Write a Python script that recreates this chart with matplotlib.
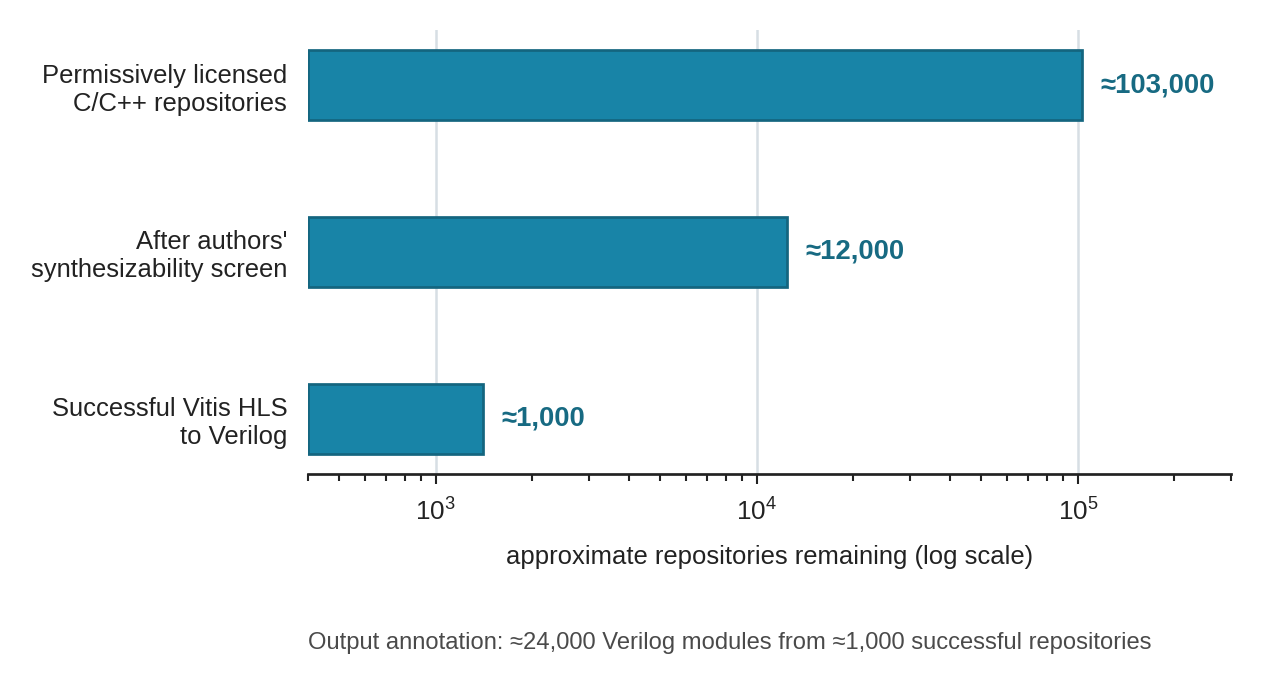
import matplotlib
matplotlib.use("Agg")
import matplotlib.pyplot as plt
from matplotlib.ticker import LogLocator, NullFormatter

# ================= DATA =================
STAGES = [
    "Permissively licensed\nC/C++ repositories",
    "After authors'\nsynthesizability screen",
    "Successful Vitis HLS\nto Verilog",
]
COUNTS = [103000, 12400, 1400]
COUNT_LABELS = ["\u2248103,000", "\u224812,000", "\u22481,000"]
FOOTNOTE = "Output annotation: \u224824,000 Verilog modules from \u22481,000 successful repositories"
XLABEL = "approximate repositories remaining (log scale)"
X_MIN, X_MAX = 400, 300000
# ========================================

BAR_FILL = "#1884a7"
BAR_EDGE = "#14657f"
LABEL_COLOR = "#176a82"
TEXT_COLOR = "#222222"

plt.rcParams["font.family"] = ["Liberation Sans", "DejaVu Sans"]

fig = plt.figure(figsize=(1261 / 150, 686 / 150), dpi=150)
ax = fig.add_axes([308 / 1261, 1 - 474 / 686, (1231 - 308) / 1261, (474 - 30) / 686])

y = list(range(len(STAGES)))
widths = [c - X_MIN for c in COUNTS]
ax.barh(y, widths, height=0.42, left=X_MIN, color=BAR_FILL, edgecolor=BAR_EDGE,
        linewidth=1.3, zorder=3)

ax.set_xscale("log")
ax.set_xlim(X_MIN, X_MAX)
ax.set_ylim(len(STAGES) - 1 + 0.333, -0.333)

ax.set_yticks(y)
ax.set_yticklabels(STAGES, fontsize=12.3, color=TEXT_COLOR)
ax.tick_params(axis="y", length=0, pad=10)

ax.xaxis.set_major_locator(LogLocator(base=10))
ax.xaxis.set_minor_locator(LogLocator(base=10, subs=range(2, 10)))
ax.xaxis.set_minor_formatter(NullFormatter())
ax.tick_params(axis="x", which="major", length=4.8, width=1.0, color=TEXT_COLOR,
               labelsize=12.5, labelcolor=TEXT_COLOR, pad=7)
ax.tick_params(axis="x", which="minor", length=3.4, width=1.0, color=TEXT_COLOR)

ax.grid(axis="x", which="major", color="#d7dee4", linewidth=1.2, zorder=0)
ax.set_axisbelow(True)

for side in ["top", "right", "left"]:
    ax.spines[side].set_visible(False)
ax.spines["bottom"].set_linewidth(1.3)
ax.spines["bottom"].set_color(TEXT_COLOR)

ax.set_xlabel(XLABEL, fontsize=12.3, color=TEXT_COLOR, labelpad=9)

for yi, val, lab in zip(y, COUNTS, COUNT_LABELS):
    ax.annotate(lab, xy=(val, yi), xytext=(9, 0), textcoords="offset points",
                ha="left", va="center", fontsize=13.2, fontweight="bold",
                color=LABEL_COLOR)

fig.text(308 / 1261, 1 - 643 / 686, FOOTNOTE, ha="left", va="center",
         fontsize=11.4, color="#4a4a4a")

fig.savefig("out.png", dpi=150)
